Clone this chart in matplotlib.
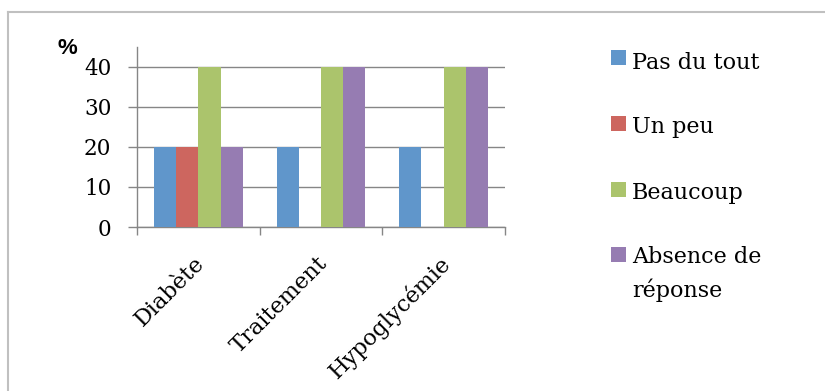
import matplotlib
matplotlib.use("Agg")
import matplotlib.pyplot as plt
from matplotlib.patches import Rectangle
from matplotlib.lines import Line2D
from matplotlib.transforms import ScaledTranslation, blended_transform_factory
import numpy as np

# Survey answers (%) per topic
categories = ["Diabète", "Traitement", "Hypoglycémie"]
series_names = ["Pas du tout", "Un peu", "Beaucoup", "Absence de\nréponse"]
pas_du_tout = [20, 20, 20]
un_peu = [20, 0, 0]
beaucoup = [40, 40, 40]
absence = [20, 40, 40]
yticks = [0, 10, 20, 30, 40]

series = [pas_du_tout, un_peu, beaucoup, absence]
colors = ["#6096CB", "#CD665F", "#ABC46C", "#967CB2"]

W, H = 825, 391
fig = plt.figure(figsize=(W / 100, H / 100), dpi=100)
fig.patch.set_facecolor("white")

def fx(px):
    return px / W

def fy(py):
    return 1 - py / H

grey = "#868686"
serif = "DejaVu Serif"

# plot area
ax = fig.add_axes([fx(137), fy(227), fx(505) - fx(137), fy(46.6) - fy(227)])
x = np.arange(len(categories))
bw = 0.181
for i, (vals, c) in enumerate(zip(series, colors)):
    ax.bar(x + (i - 1.5) * bw, vals, width=bw, color=c, edgecolor="none",
           zorder=3)

ax.set_xlim(-0.5, len(categories) - 0.5)
ax.set_ylim(0, 45)
ax.set_yticks(yticks)
ax.set_yticklabels([str(v) for v in yticks], fontfamily=serif, fontsize=15.5)
ax.yaxis.grid(True, color=grey, linewidth=1.0, zorder=0)
ax.set_axisbelow(True)

# tick marks sit on the category boundaries
ax.set_xticks(np.arange(len(categories) + 1) - 0.5)
ax.set_xticklabels([])
ax.tick_params(axis="x", length=5.5, width=1, color=grey, direction="out")
ax.tick_params(axis="y", length=6.5, width=1, color=grey, pad=12,
               direction="out")

# rotated category names, ending just right of each category centre
xlab_tr = blended_transform_factory(ax.transData, ax.transAxes) + \
    ScaledTranslation(0.03, -0.33, fig.dpi_scale_trans)
for xi, name in zip(x, categories):
    ax.text(xi, 0, name, transform=xlab_tr, rotation=45, ha="right",
            va="center", rotation_mode="anchor", fontfamily=serif,
            fontsize=16.2)

for s in ["top", "right"]:
    ax.spines[s].set_visible(False)
for s in ["left", "bottom"]:
    ax.spines[s].set_color(grey)
    ax.spines[s].set_linewidth(1.0)

# unit label
fig.text(fx(67.5), fy(48.5), "%", fontfamily="Liberation Sans",
         fontweight="bold", fontsize=16, ha="center", va="center")

# legend
sq = 15
tops = [50, 116, 182, 247]
baselines = [69, 133, 199, 265]
line_gap = 32
for name, c, t, b in zip(series_names, colors, tops, baselines):
    fig.add_artist(Rectangle((fx(611), fy(t + sq)), fx(sq), sq / H,
                             transform=fig.transFigure, facecolor=c,
                             edgecolor="none"))
    extra = name.count("\n") * line_gap
    fig.text(fx(632), fy(b + extra), name, fontfamily=serif, fontsize=16,
             ha="left", va="baseline", linespacing=1.55)

# chart frame
frame = "#C0C0C0"
fig.add_artist(Line2D([fx(8), 1.0], [fy(11.5), fy(11.5)],
                      transform=fig.transFigure, color=frame, linewidth=1.5))
fig.add_artist(Line2D([fx(8), fx(8)], [fy(11.5), 0.0],
                      transform=fig.transFigure, color=frame, linewidth=1.5))

fig.savefig("out.png", dpi=100, facecolor="white")
